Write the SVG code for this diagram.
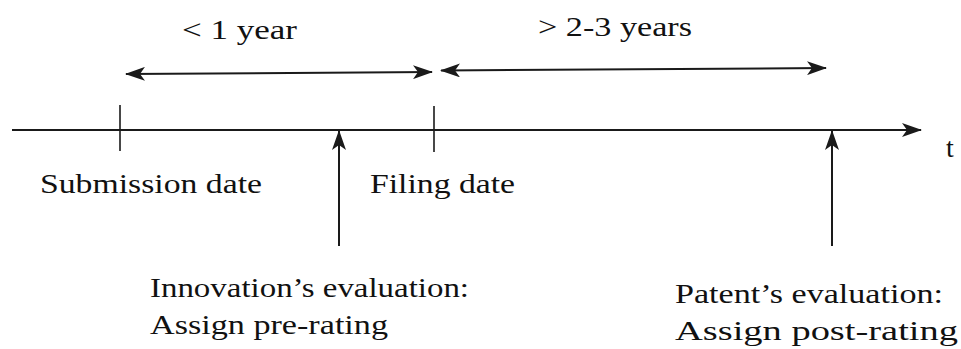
<svg xmlns="http://www.w3.org/2000/svg" width="961" height="349" viewBox="0 0 961 349">
<style>
.ln{stroke:#1a1a1a;stroke-width:2;fill:none}
.tk{stroke:#1a1a1a;stroke-width:1.6;fill:none}
.lb{font-family:"Liberation Serif","Times New Roman",serif;font-size:28px;fill:#111}
</style>
<defs>
<marker id="ah" viewBox="0 0 20 14" refX="19" refY="7" markerWidth="20" markerHeight="14" markerUnits="userSpaceOnUse" orient="auto-start-reverse">
<path d="M0,0 L20,7 L0,14 L5,7 Z" fill="#1a1a1a"/>
</marker>
</defs>
<rect width="961" height="349" fill="#fff"/>
<g id="connectors">
<line class="ln" x1="12" y1="130" x2="921" y2="130" marker-end="url(#ah)"/>
<line class="ln" x1="126" y1="74" x2="432" y2="72" marker-start="url(#ah)" marker-end="url(#ah)"/>
<line class="ln" x1="441" y1="70.5" x2="826" y2="68" marker-start="url(#ah)" marker-end="url(#ah)"/>
<line class="ln" x1="339" y1="246" x2="339" y2="131" marker-end="url(#ah)"/>
<line class="ln" x1="832" y1="246" x2="832" y2="131" marker-end="url(#ah)"/>
</g>
<g id="tick-submission"><line class="tk" x1="120" y1="105" x2="120" y2="151"/></g>
<g id="tick-filing"><line class="tk" x1="434" y1="106" x2="434" y2="152"/></g>
<g id="label-t"><text class="lb" x="946" y="157">t</text></g>
<g id="label-lt1"><text class="lb" x="182" y="39" textLength="115" lengthAdjust="spacingAndGlyphs">&lt; 1 year</text></g>
<g id="label-gt23"><text class="lb" x="538" y="36" textLength="154" lengthAdjust="spacingAndGlyphs">&gt; 2-3 years</text></g>
<g id="submission"><text class="lb" x="40" y="193" textLength="222" lengthAdjust="spacingAndGlyphs">Submission date</text></g>
<g id="filing"><text class="lb" x="370" y="193" textLength="145" lengthAdjust="spacingAndGlyphs">Filing date</text></g>
<g id="innovation-eval">
<text class="lb" x="150" y="297" textLength="319" lengthAdjust="spacingAndGlyphs">Innovation’s evaluation:</text>
<text class="lb" x="150" y="334" textLength="238" lengthAdjust="spacingAndGlyphs">Assign pre-rating</text>
</g>
<g id="patent-eval">
<text class="lb" x="675" y="303" textLength="268" lengthAdjust="spacingAndGlyphs">Patent’s evaluation:</text>
<text class="lb" x="675" y="340" textLength="283" lengthAdjust="spacingAndGlyphs">Assign post-rating</text>
</g>
</svg>
